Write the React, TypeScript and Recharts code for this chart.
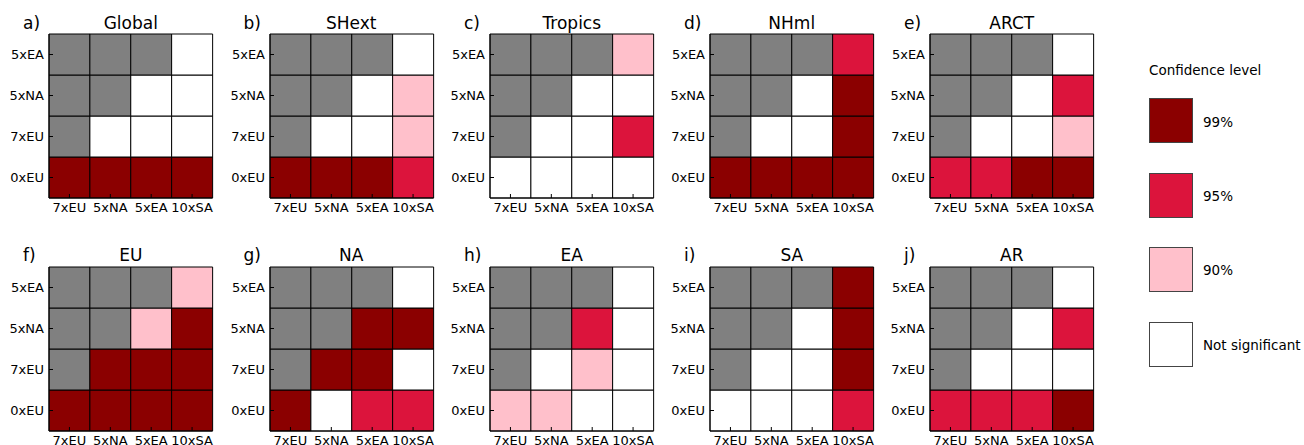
import React from 'react';
import { BarChart, Bar, Cell, XAxis, YAxis } from 'recharts';

// rows are listed top to bottom, columns left to right
const ROWS = ['5xEA', '5xNA', '7xEU', '0xEU'];
const COLS = ['7xEU', '5xNA', '5xEA', '10xSA'];

// -1 = not applicable (grey), 0 = not significant, 1 = 90%, 2 = 95%, 3 = 99%
const G = -1;
const GLOBAL = [[G, G, G, 0], [G, G, 0, 0], [G, 0, 0, 0], [3, 3, 3, 3]];
const SHEXT = [[G, G, G, 0], [G, G, 0, 1], [G, 0, 0, 1], [3, 3, 3, 2]];
const TROPICS = [[G, G, G, 1], [G, G, 0, 0], [G, 0, 0, 2], [0, 0, 0, 0]];
const NHML = [[G, G, G, 2], [G, G, 0, 3], [G, 0, 0, 3], [3, 3, 3, 3]];
const ARCT = [[G, G, G, 0], [G, G, 0, 2], [G, 0, 0, 1], [2, 2, 3, 3]];
const EU = [[G, G, G, 1], [G, G, 1, 3], [G, 3, 3, 3], [3, 3, 3, 3]];
const NA = [[G, G, G, 0], [G, G, 3, 3], [G, 3, 3, 0], [3, 0, 2, 2]];
const EA = [[G, G, G, 0], [G, G, 2, 0], [G, 0, 1, 0], [1, 1, 0, 0]];
const SA = [[G, G, G, 3], [G, G, 0, 3], [G, 0, 0, 3], [0, 0, 0, 2]];
const AR = [[G, G, G, 0], [G, G, 0, 2], [G, 0, 0, 0], [2, 2, 2, 3]];

const TITLES = ['Global', 'SHext', 'Tropics', 'NHml', 'ARCT', 'EU', 'NA', 'EA', 'SA', 'AR'];
const LETTERS = ['a)', 'b)', 'c)', 'd)', 'e)', 'f)', 'g)', 'h)', 'i)', 'j)'];
const MATRICES = [GLOBAL, SHEXT, TROPICS, NHML, ARCT, EU, NA, EA, SA, AR];

const LEVEL_LABELS = ['99%', '95%', '90%', 'Not significant'];
const LEVEL_VALUES = [3, 2, 1, 0];

const colorOf = (v: number) => {
  if (v < 0) return '#808080';
  return ['#ffffff', '#ffc0cb', '#dc143c', '#8b0000'][v];
};

const FONT = '"DejaVu Sans", "Bitstream Vera Sans", sans-serif';
const GRID_W = 163.5;
const GRID_H = 164;
const Y_W = 49;
const PAD = 2;

const Panel: React.FC<{ title: string; letter: string; cells: number[][]; left: number; top: number }> = ({ title, letter, cells, left, top }) => {
  const data = COLS.map((c) => ({ col: c, r0: 1, r1: 1, r2: 1, r3: 1 }));
  return (
    <>
      <div style={{ position: 'absolute', left: left - 26, top: top - 19.4, fontSize: 17, lineHeight: '17px' }}>{letter}</div>
      <div style={{ position: 'absolute', left, width: GRID_W, top: top - 19.4, fontSize: 17, lineHeight: '17px', textAlign: 'center' }}>{title}</div>
      <div style={{ position: 'absolute', left: left - Y_W, top: top - PAD }}>
        <BarChart
          width={Y_W + GRID_W + 4}
          height={GRID_H + 28 + PAD}
          data={data}
          barCategoryGap={0}
          margin={{ top: PAD, right: 4, left: 0, bottom: 0 }}
        >
          {[0, 1, 2, 3].map((k) => (
            <Bar key={k} dataKey={`r${k}`} stackId="s" stroke="#000" strokeWidth={1} isAnimationActive={false}>
              {COLS.map((c, j) => (
                <Cell key={c} fill={colorOf(cells[3 - k][j])} />
              ))}
            </Bar>
          ))}
          <XAxis
            dataKey="col"
            interval={0}
            height={28}
            tickSize={-4}
            tickMargin={9}
            axisLine={{ stroke: '#000' }}
            tickLine={{ stroke: '#000' }}
            tick={{ fill: '#000', fontSize: 13 }}
          />
          <XAxis
            xAxisId="top"
            orientation="top"
            dataKey="col"
            height={0}
            tickSize={-4}
            axisLine={{ stroke: '#000' }}
            tickLine={{ stroke: '#000' }}
            tick={false}
          />
          <YAxis
            type="number"
            domain={[0, 4]}
            ticks={[0.5, 1.5, 2.5, 3.5]}
            tickFormatter={(v: number) => ROWS[3 - Math.floor(v)]}
            width={Y_W}
            tickSize={-4}
            tickMargin={9}
            axisLine={{ stroke: '#000' }}
            tickLine={{ stroke: '#000' }}
            tick={{ fill: '#000', fontSize: 13 }}
          />
          <YAxis
            yAxisId="right"
            orientation="right"
            type="number"
            domain={[0, 4]}
            ticks={[0.5, 1.5, 2.5, 3.5]}
            width={0}
            tickSize={-4}
            axisLine={{ stroke: '#000' }}
            tickLine={{ stroke: '#000' }}
            tick={false}
          />
        </BarChart>
      </div>
    </>
  );
};

export default function App() {
  const lefts = [49, 269.5, 490, 710, 930];
  const tops = [34, 266.5];
  return (
    <div style={{ position: 'relative', width: 1304, height: 445, background: '#fff', fontFamily: FONT, color: '#000' }}>
      <style>{'body{margin:0}'}</style>
      {TITLES.map((t, i) => (
        <Panel key={t} title={t} letter={LETTERS[i]} cells={MATRICES[i]} left={lefts[i % 5]} top={tops[Math.floor(i / 5)]} />
      ))}
      <div style={{ position: 'absolute', left: 1149, top: 64, fontSize: 13.5, lineHeight: '13.5px' }}>Confidence level</div>
      {LEVEL_LABELS.map((l, i) => (
        <React.Fragment key={l}>
          <div
            style={{
              position: 'absolute',
              left: 1149,
              top: 98 + i * 74.5,
              width: 44,
              height: 45,
              boxSizing: 'border-box',
              border: '1px solid #444',
              background: colorOf(LEVEL_VALUES[i]),
            }}
          />
          <div style={{ position: 'absolute', left: 1203, top: 116 + i * 74.2, fontSize: 13.5, lineHeight: '13.5px' }}>{l}</div>
        </React.Fragment>
      ))}
    </div>
  );
}
